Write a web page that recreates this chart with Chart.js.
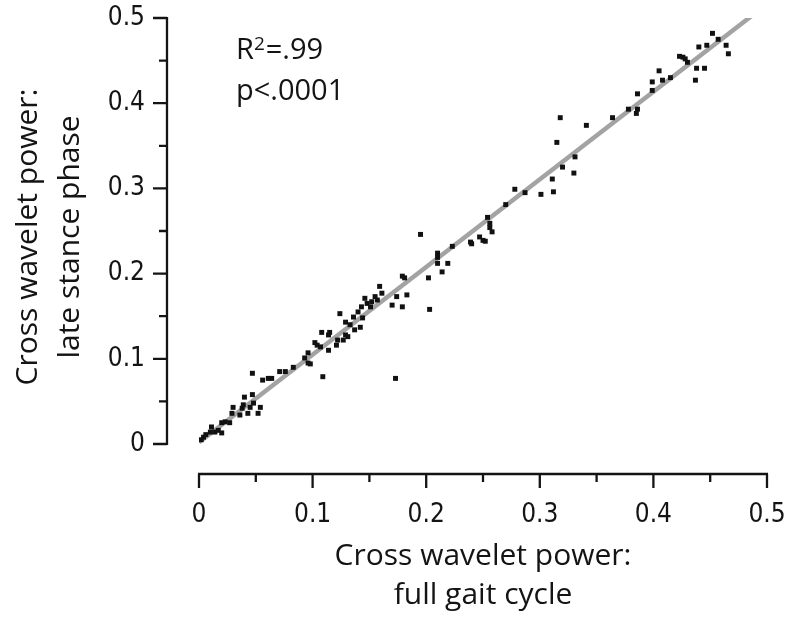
<!DOCTYPE html>
<html><head><meta charset="utf-8">
<script src="https://cdn.jsdelivr.net/npm/chart.js@4.4.0/dist/chart.umd.min.js"></script>
<style>html,body{margin:0;padding:0;background:#fff}#wrap{width:788px;height:619px}</style>
</head><body><div id="wrap"><canvas id="c" width="788" height="619"></canvas></div>
<script>
// ---- data ----
const fullCycle = [
  0.002,0.004,0.006,0.010,0.011,0.014,0.017,0.020,0.020,0.023,0.027,0.029,0.030,0.036,0.038,0.039,0.040,0.043,0.045,0.047,0.048,0.047,0.052,0.054,
  0.056,0.061,0.064,0.071,0.076,0.083,0.093,0.096,0.096,0.098,0.102,0.104,0.107,0.108,0.109,0.114,0.115,0.114,0.121,0.122,0.124,0.127,0.129,0.129,0.131,
  0.133,0.136,0.137,0.140,0.142,0.143,0.144,0.146,0.148,0.151,0.152,0.155,0.157,0.159,0.161,0.170,0.173,0.174,0.179,0.179,0.181,0.183,0.202,0.203,0.214,
  0.195,0.210,0.210,0.210,0.219,0.223,0.239,0.240,0.247,0.250,0.252,0.254,0.256,0.256,0.258,0.270,0.278,
  0.287,0.301,0.312,0.311,0.315,0.318,0.320,0.330,0.331,0.341,0.364,0.378,0.385,0.386,0.386,0.399,0.399,0.405,0.408,0.415,0.423,0.426,0.428,0.430,
  0.437,0.438,0.440,0.445,0.447,0.452,0.457,0.464,0.466
];
const lateStance = [
  0.005,0.008,0.011,0.014,0.020,0.014,0.016,0.013,0.025,0.026,0.025,0.036,0.043,0.034,0.042,0.046,0.055,0.036,0.043,0.058,0.048,0.083,0.036,0.043,
  0.075,0.077,0.077,0.085,0.085,0.090,0.101,0.107,0.095,0.094,0.119,0.116,0.114,0.131,0.079,0.110,0.131,0.128,0.116,0.122,0.153,0.122,0.143,0.128,0.126,
  0.140,0.149,0.134,0.155,0.137,0.161,0.148,0.171,0.165,0.161,0.167,0.173,0.169,0.185,0.177,0.163,0.077,0.173,0.161,0.197,0.195,0.175,0.195,0.158,0.202,
  0.246,0.219,0.224,0.212,0.212,0.232,0.237,0.235,0.243,0.239,0.238,0.266,0.259,0.254,0.249,0.281,0.299,
  0.295,0.293,0.296,0.311,0.354,0.383,0.325,0.318,0.337,0.374,0.383,0.393,0.388,0.411,0.393,0.415,0.425,0.438,0.427,0.430,0.455,0.454,0.452,0.448,
  0.427,0.441,0.466,0.441,0.468,0.482,0.475,0.468,0.458
];
const fitX = [0, 0.487];
const fitY = [0.002, 0.503];
const xTickValues = [0, 0.1, 0.2, 0.3, 0.4, 0.5];
const xTickLabels = ['0', '0.1', '0.2', '0.3', '0.4', '0.5'];
const yTickValues = [0, 0.1, 0.2, 0.3, 0.4, 0.5];
const yTickLabels = ['0', '0.1', '0.2', '0.3', '0.4', '0.5'];
const minorTickValues = [0.05, 0.15, 0.25, 0.35, 0.45];
const xTitleLines = ['Cross wavelet power:', 'full gait cycle'];
const yTitleLines = ['Cross wavelet power:', 'late stance phase'];
const statR = ['R', '2', '=.99'];
const statP = 'p<.0001';

const TITLE_FONT = '"Open Sans", "Noto Sans", sans-serif';
const TICK_FONT = '"DejaVu Sans Condensed", "Liberation Sans", sans-serif';

const axesPlugin = {
  id: 'axesPlugin',
  afterDraw(chart) {
    const ctx = chart.ctx;
    const xs = chart.scales.x, ys = chart.scales.y;
    const ca = chart.chartArea;
    ctx.save();
    ctx.strokeStyle = '#141414';
    ctx.lineWidth = 2.3;
    ctx.lineCap = 'butt';
    // y axis
    const yx = ca.left - 32;
    ctx.beginPath();
    ctx.moveTo(yx, ys.getPixelForValue(0.5) - 1);
    ctx.lineTo(yx, ys.getPixelForValue(0) + 1);
    yTickValues.forEach(v => { const p = ys.getPixelForValue(v); ctx.moveTo(yx, p); ctx.lineTo(yx - 14, p); });
    minorTickValues.forEach(v => { const p = ys.getPixelForValue(v); ctx.moveTo(yx, p); ctx.lineTo(yx - 8, p); });
    ctx.stroke();
    // x axis
    const xy = ca.bottom + 30;
    ctx.beginPath();
    ctx.moveTo(xs.getPixelForValue(0) - 1, xy);
    ctx.lineTo(xs.getPixelForValue(0.5) + 1, xy);
    xTickValues.forEach(v => { const p = xs.getPixelForValue(v); ctx.moveTo(p, xy); ctx.lineTo(p, xy + 14); });
    minorTickValues.forEach(v => { const p = xs.getPixelForValue(v); ctx.moveTo(p, xy); ctx.lineTo(p, xy + 8); });
    ctx.stroke();

    // axis titles
    ctx.fillStyle = '#141414';
    ctx.font = '30px ' + TITLE_FONT;
    ctx.textAlign = 'center';
    ctx.textBaseline = 'alphabetic';
    const cx = (ca.left + ca.right) / 2;
    ctx.fillText(xTitleLines[0], cx, 565);
    ctx.fillText(xTitleLines[1], cx, 604);
    ctx.save();
    ctx.translate(37, 237);
    ctx.rotate(-Math.PI / 2);
    ctx.fillText(yTitleLines[0], 0, 0);
    ctx.fillText(yTitleLines[1], 0, 42);
    ctx.restore();

    // statistics annotation
    ctx.textAlign = 'left';
    ctx.font = '29px ' + TITLE_FONT;
    let sx = ca.left + 37;
    ctx.fillText(statR[0], sx, 59);
    sx += ctx.measureText(statR[0]).width;
    ctx.font = '19px ' + TITLE_FONT;
    ctx.fillText(statR[1], sx, 50);
    sx += ctx.measureText(statR[1]).width + 1;
    ctx.font = '29px ' + TITLE_FONT;
    ctx.fillText(statR[2], sx, 59);
    ctx.fillText(statP, ca.left + 37, 100);
    ctx.restore();
  }
};

const points = fullCycle.map((x, i) => ({ x: x, y: lateStance[i] }));
const fitLine = fitX.map((x, i) => ({ x: x, y: fitY[i] }));

new Chart(document.getElementById('c'), {
  type: 'scatter',
  data: {
    datasets: [
      {
        data: points,
        pointStyle: 'rect',
        pointRadius: 3.5,
        pointHoverRadius: 3.5,
        borderWidth: 0,
        backgroundColor: '#111111',
        borderColor: '#111111'
      },
      {
        type: 'line',
        data: fitLine,
        borderColor: '#a3a3a3',
        borderWidth: 4.5,
        pointRadius: 0,
        fill: false,
        tension: 0
      }
    ]
  },
  options: {
    responsive: false,
    animation: false,
    devicePixelRatio: 1,
    layout: { padding: { top: 18, right: 21, left: 0, bottom: 0 } },
    plugins: { legend: { display: false }, tooltip: { enabled: false }, title: { display: false } },
    scales: {
      x: {
        type: 'linear', min: 0, max: 0.5,
        afterFit(s) { s.height = 175; s.paddingLeft = 0; s.paddingRight = 0; },
        afterBuildTicks(s) { s.ticks = xTickValues.map(v => ({ value: v })); },
        grid: { display: false, drawTicks: false },
        border: { display: false },
        ticks: {
          padding: 56, color: '#141414', maxRotation: 0, autoSkip: false,
          font: { family: TICK_FONT, size: 26 },
          callback: (v, i) => xTickLabels[i]
        }
      },
      y: {
        type: 'linear', min: 0, max: 0.5,
        afterFit(s) { s.width = 199; s.paddingTop = 0; s.paddingBottom = 0; },
        afterBuildTicks(s) { s.ticks = yTickValues.map(v => ({ value: v })); },
        grid: { display: false, drawTicks: false },
        border: { display: false },
        ticks: {
          padding: 54, color: '#141414', autoSkip: false,
          font: { family: TICK_FONT, size: 26 },
          callback: (v, i) => yTickLabels[i]
        }
      }
    }
  },
  plugins: [axesPlugin]
});
</script>
</body></html>
